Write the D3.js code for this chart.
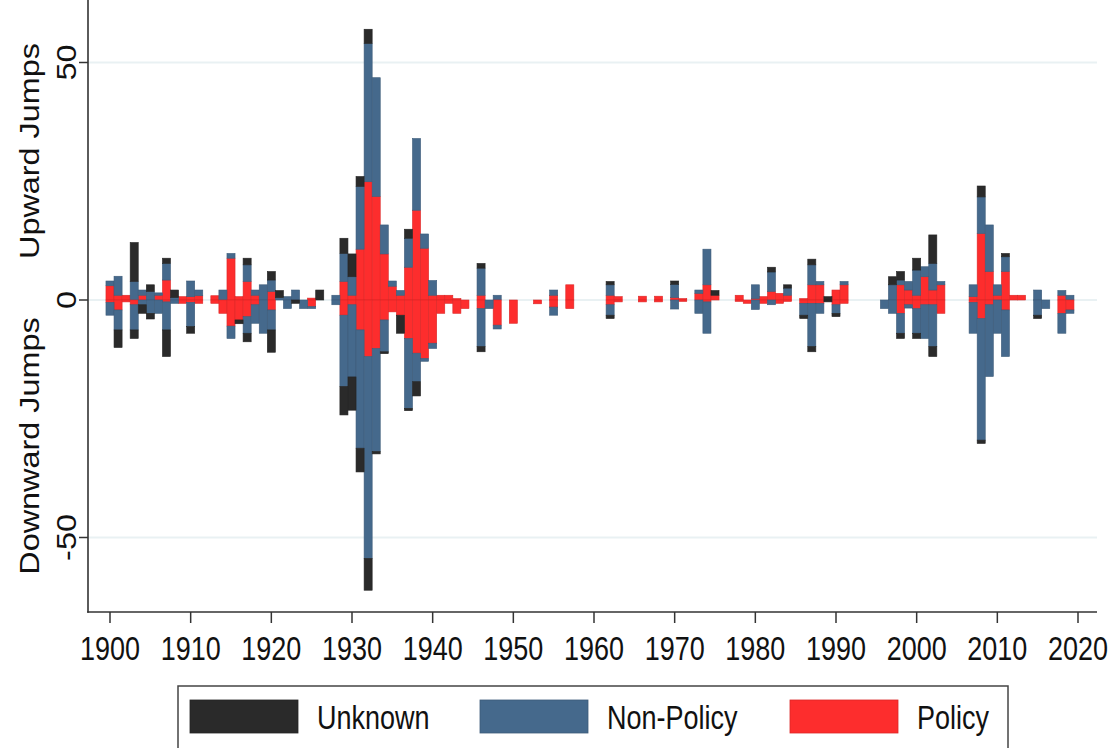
<!DOCTYPE html>
<html>
<head>
<meta charset="utf-8">
<script src="https://cdn.jsdelivr.net/npm/d3@7"></script>
<style>
  html, body { margin: 0; padding: 0; background: #ffffff; }
  svg { display: block; }
  text { font-family: "Liberation Sans", Arial, sans-serif; fill: #111; }
</style>
</head>
<body>
<svg id="chart" width="1114" height="748"></svg>
<script>
// ---------------- DATA ----------------
const years = [
  1900,1901,1902,1903,1904,1905,1906,1907,1908,1909,
  1910,1911,1913,1914,1915,1916,1917,1918,1919,1920,
  1921,1922,1923,1924,1925,1926,1928,1929,1930,1931,
  1932,1933,1934,1935,1936,1937,1938,1939,1940,1941,
  1942,1943,1944,1946,1947,1948,1950,1953,1955,1957,
  1962,1963,1966,1968,1970,1971,1973,1974,1975,1978,
  1979,1980,1981,1982,1983,1984,1986,1987,1988,1989,
  1990,1991,1996,1997,1998,1999,2000,2001,2002,2003,
  2007,2008,2009,2010,2011,2012,2013,2015,2016,2018,2019
];
// Upward jumps (counts) by category
const upPolicy = [
  3.0,1.0,1.0,0,1.0,0,1.0,4.2,0,0.7,
  0.7,0.9,0.9,0,8.8,0.7,3.9,1.0,0,1.8,
  0,0,0,0,0.4,0,0,3.9,1.0,10.7,
  24.9,21.8,9.7,2.9,1.0,6.9,18.9,10.9,1.0,1.0,
  1.0,0.3,0,1.0,0,0,0,0,1.0,3.2,
  1.0,0.7,0.8,0.8,0.5,0.3,1.4,3.2,1.0,1.0,
  0,0.3,0.7,1.8,1.4,1.0,0.3,3.2,3.2,0,
  2.1,3.2,0,0,3.2,2.1,1.0,4.9,2.1,3.2,
  0.7,14.0,6.0,1.0,6.0,1.0,1.0,0,0,1.0,0
];
const upNonPolicy = [
  1.0,4.0,0,3.9,1.1,1.8,0.5,3.5,0.5,0,
  3.3,1.2,0,2.1,1.0,0,3.5,1.1,3.2,2.4,
  0.5,0.7,2.1,0,0,0,1.0,5.9,3.9,13.2,
  29.1,25.0,6.1,1.1,1.0,6.1,15.1,3.0,3.1,0,
  0,0,0,5.7,0,1.0,0,0,1.1,0,
  2.2,0,0,0,2.8,0,0.7,7.5,0,0,
  0,2.9,0,4.1,0,1.5,0,4.2,0.7,0,
  0,0.7,0,3.2,1.0,1.8,5.3,2.1,5.6,0.7,
  2.5,7.7,9.8,2.2,3.1,0,0,2.1,0,1.0,1.0
];
const upUnknown = [
  0,0,0,8.2,0,1.4,0,1.1,1.6,0,
  0,0,0,0,0,0,1.4,0,0,1.8,
  1.5,0,0,0,0,2.1,0,3.2,4.8,2.1,
  3.0,0,0,0,0,1.9,0,0,0,0,
  0,0,0,1.0,0,0,0,0,0,0,
  0.7,0,0,0,0.7,0,0,0,1.0,0,
  0,0,0,1.0,0,0.7,0,1.2,0,0.7,
  0,0,0,1.7,1.8,0,2.5,0,6.0,0,
  0,2.3,0,0,0.7,0,0,0,0,0,0
];
// Downward jumps (counts) by category
const downPolicy = [
  0.5,2.1,0.4,1.0,0,0,0,0.4,0,0.7,
  0.5,0.7,0.7,2.8,5.5,4.2,3.5,1.0,0,2.1,
  0,0,0,0,1.4,0,0,3.2,1.0,6.3,
  11.9,10.2,4.2,2.5,3.2,8.1,11.2,12.3,9.1,2.8,
  0.7,2.8,1.8,1.8,0,5.3,4.9,0.8,1.5,1.8,
  1.0,0.4,0.4,0.4,0,0.3,0,0.4,0,0.3,
  0.7,0,0.7,0,0.7,0.3,0.7,0.7,0.7,0,
  1.0,0.7,0,0,2.8,1.0,1.8,1.0,1.0,2.8,
  0.5,3.9,1.0,0,2.1,0,0,0,0,2.8,2.1
];
const downNonPolicy = [
  2.7,4.2,0,5.3,1.0,2.8,2.8,5.9,0.7,0,
  5.1,0,0,0,2.6,0,3.5,3.9,7.0,4.2,
  0,1.8,0,1.8,0.4,0,1.0,15.0,15.2,24.9,
  42.5,21.7,6.7,0,0,14.7,6.0,0.6,1.1,0,
  0,0,0,8.0,1.8,0.8,0,0,1.7,0,
  2.2,0,0,0,1.9,0,2.8,6.6,0,0,
  0,2.0,0,1.0,0,0,2.5,9.1,2.1,0,
  1.8,0,1.8,2.8,4.2,0.7,5.2,7.1,8.8,0,
  6.5,25.6,15.1,7.0,9.8,0,0,3.2,1.8,4.2,0.7
];
const downUnknown = [
  0,3.7,0,1.8,1.8,1.2,0,5.6,0,0,
  1.4,0,0,0,0,0.8,1.8,0,0,4.7,
  0,0,0.7,0,0,0,0,6.0,7.0,5.0,
  6.7,0.5,0.4,0,3.8,0.5,3.0,0,0,0,
  0,0,0,1.1,0,0,0,0,0,0,
  0.7,0,0,0,0,0,0,0,0,0,
  0,0,0,0,0,0,0.7,1.1,0,0.4,
  0.7,0,0,0,1.1,0,1.1,0,2.1,0,
  0,0.7,0,0,0,0,0,0.7,0,0,0
];
const xTicks = [1900,1910,1920,1930,1940,1950,1960,1970,1980,1990,2000,2010,2020];
const yTicks = [50, 0, -50];
const seriesNames = ["Unknown", "Non-Policy", "Policy"];
const seriesColors = { "Unknown": "#2a2a2a", "Non-Policy": "#45698c", "Policy": "#fd2d2d" };

// ---------------- LAYOUT ----------------
const svg = d3.select("#chart");
const axisLeftX = 88, axisBottomY = 612, axisRightX = 1097;
const x = d3.scaleLinear().domain([1900, 2020]).range([110, 1078]);
const y = d3.scaleLinear().domain([0, 50]).range([300, 62.5]);
const yearStep = x(1901) - x(1900);
const barW = yearStep;
const FS = 27, STRETCH = 1.2;

// gridlines
svg.append("g").selectAll("line").data(yTicks).join("line")
  .attr("x1", axisLeftX).attr("x2", axisRightX)
  .attr("y1", d => y(d)).attr("y2", d => y(d))
  .attr("stroke", "#e9f1f3").attr("stroke-width", 2);

// build rows
const rows = years.map((yr, i) => ({
  year: yr,
  upP: upPolicy[i], upN: upNonPolicy[i], upU: upUnknown[i],
  dnP: -downPolicy[i], dnN: -downNonPolicy[i], dnU: -downUnknown[i]
}));

const upStack = d3.stack().keys(["upP", "upN", "upU"])(rows);
const dnStack = d3.stack().keys(["dnP", "dnN", "dnU"]).offset(d3.stackOffsetDiverging)(rows);
const keyColor = { upP: "Policy", upN: "Non-Policy", upU: "Unknown", dnP: "Policy", dnN: "Non-Policy", dnU: "Unknown" };

const barsG = svg.append("g");
[...upStack, ...dnStack].forEach(layer => {
  const col = seriesColors[keyColor[layer.key]];
  barsG.append("g").selectAll("rect")
    .data(layer.filter(d => Math.abs(d[1] - d[0]) > 0))
    .join("rect")
    .attr("x", d => x(d.data.year) - barW / 2)
    .attr("width", barW)
    .attr("y", d => Math.min(y(d[0]), y(d[1])))
    .attr("height", d => Math.abs(y(d[1]) - y(d[0])))
    .attr("fill", col)
    .attr("stroke", d3.color(col).darker(0.4))
    .attr("stroke-width", 0.6);
});

// axes
const axG = svg.append("g").attr("stroke", "#333").attr("stroke-width", 1.6);
axG.append("line").attr("x1", axisLeftX).attr("x2", axisLeftX).attr("y1", -5).attr("y2", axisBottomY + 0.8);
axG.append("line").attr("x1", axisLeftX - 0.8).attr("x2", axisRightX).attr("y1", axisBottomY).attr("y2", axisBottomY);

// x ticks
svg.append("g").selectAll("line").data(xTicks).join("line")
  .attr("x1", d => x(d)).attr("x2", d => x(d))
  .attr("y1", axisBottomY).attr("y2", axisBottomY + 11)
  .attr("stroke", "#333").attr("stroke-width", 1.5);
svg.append("g").selectAll("text").data(xTicks).join("text")
  .attr("transform", d => `translate(${x(d)},660) scale(1,${STRETCH})`)
  .attr("text-anchor", "middle").attr("font-size", FS)
  .text(d => d);

// y ticks
svg.append("g").selectAll("line").data(yTicks).join("line")
  .attr("x1", axisLeftX - 9).attr("x2", axisLeftX)
  .attr("y1", d => y(d)).attr("y2", d => y(d))
  .attr("stroke", "#333").attr("stroke-width", 1.5);
svg.append("g").selectAll("text").data(yTicks).join("text")
  .attr("transform", d => `translate(76,${y(d)}) scale(1,${STRETCH}) rotate(-90)`)
  .attr("text-anchor", "middle").attr("font-size", FS)
  .text(d => d);

// y axis titles
svg.append("text")
  .attr("transform", `translate(39,151) scale(1,${STRETCH}) rotate(-90)`)
  .attr("text-anchor", "middle").attr("font-size", FS)
  .text("Upward Jumps");
svg.append("text")
  .attr("transform", `translate(39,446) scale(1,${STRETCH}) rotate(-90)`)
  .attr("text-anchor", "middle").attr("font-size", FS)
  .text("Downward Jumps");

// legend
const lg = svg.append("g");
lg.append("rect").attr("x", 178).attr("y", 686).attr("width", 830).attr("height", 70)
  .attr("fill", "#fff").attr("stroke", "#444").attr("stroke-width", 1.5);
const legendX = [190, 480, 790];
seriesNames.forEach((name, i) => {
  lg.append("rect").attr("x", legendX[i]).attr("y", 700).attr("width", 108).attr("height", 33)
    .attr("fill", seriesColors[name]).attr("stroke", d3.color(seriesColors[name]).darker(0.4)).attr("stroke-width", 0.8);
  lg.append("text")
    .attr("transform", `translate(${legendX[i] + 127},729) scale(1,${STRETCH})`)
    .attr("font-size", FS).text(name);
});
</script>
</body>
</html>
